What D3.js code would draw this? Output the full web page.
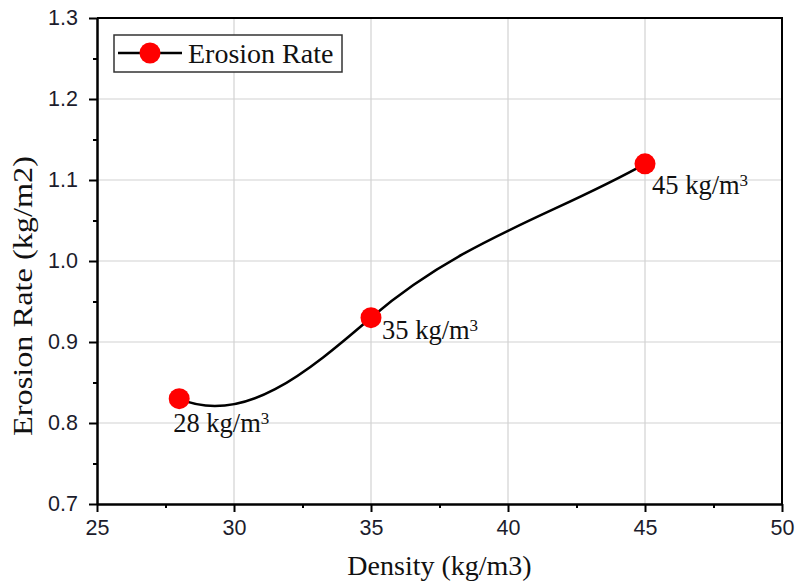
<!DOCTYPE html>
<html>
<head>
<meta charset="utf-8">
<script src="https://cdn.jsdelivr.net/npm/d3@7"></script>
<style>
  body { margin: 0; background: #fff; }
  svg { display: block; }
</style>
</head>
<body>
<div id="chart"></div>
<script>
// Data
const density = [28, 35, 45];
const erosionRate = [0.83, 0.93, 1.12];
const pointLabels = ["28 kg/m", "35 kg/m", "45 kg/m"];
const xTicks = [25, 30, 35, 40, 45, 50];
const yTicks = [0.7, 0.8, 0.9, 1.0, 1.1, 1.2, 1.3];
const seriesName = "Erosion Rate";

// Set up dimensions and margins
const W = 797, H = 582;
const margin = { top: 18, right: 15, bottom: 78, left: 97 };
const width = W - margin.left - margin.right;
const height = H - margin.top - margin.bottom;

const serif = "'Liberation Serif', 'Times New Roman', serif";
const sans = "'Liberation Sans', Arial, sans-serif";

const data = density.map((d, i) => ({ x: d, y: erosionRate[i], label: pointLabels[i] }));

const svg = d3.select("#chart")
    .append("svg")
    .attr("width", W)
    .attr("height", H);

const chart = svg.append("g")
    .attr("transform", `translate(${margin.left},${margin.top})`);

// Scales
const x = d3.scaleLinear().domain([25, 50]).range([0, width]);
const y = d3.scaleLinear().domain([0.7, 1.3]).range([height, 0]);

// Grid lines
chart.append("g")
    .selectAll("line")
    .data(xTicks.slice(1, -1))
    .join("line")
    .attr("x1", d => x(d)).attr("x2", d => x(d))
    .attr("y1", 0).attr("y2", height)
    .attr("stroke", "#d2d2d2").attr("stroke-width", 1.2);

chart.append("g")
    .selectAll("line")
    .data(yTicks.slice(1, -1))
    .join("line")
    .attr("y1", d => y(d)).attr("y2", d => y(d))
    .attr("x1", 0).attr("x2", width)
    .attr("stroke", "#d2d2d2").attr("stroke-width", 1.2);

// Minor ticks halfway between the major ones
const xMinor = xTicks.slice(1).map((d, i) => (d + xTicks[i]) / 2);
const yMinor = yTicks.slice(1).map((d, i) => (d + yTicks[i]) / 2);

function styleAxis(g) {
    g.selectAll("path, line").attr("stroke", "#000").attr("stroke-width", 2);
    g.selectAll("text")
        .style("font-family", sans)
        .style("font-size", "21.5px")
        .attr("fill", "#1c1c2c");
}

// x axis
chart.append("g")
    .attr("transform", `translate(0,${height})`)
    .call(d3.axisBottom(x).tickValues(xTicks).tickSize(8).tickSizeOuter(0).tickPadding(8))
    .call(styleAxis);
chart.append("g")
    .attr("transform", `translate(0,${height})`)
    .call(d3.axisBottom(x).tickValues(xMinor).tickSize(4).tickSizeOuter(0).tickFormat(""))
    .call(styleAxis);

// y axis
chart.append("g")
    .call(d3.axisLeft(y).tickValues(yTicks).tickFormat(d3.format(".1f")).tickSize(8).tickSizeOuter(0).tickPadding(11))
    .call(styleAxis);
chart.append("g")
    .call(d3.axisLeft(y).tickValues(yMinor).tickSize(4).tickSizeOuter(0).tickFormat(""))
    .call(styleAxis);

// top and right frame
chart.append("path")
    .attr("d", `M0,0H${width}V${height}`)
    .attr("fill", "none")
    .attr("stroke", "#000")
    .attr("stroke-width", 2);

// Spline through the points (tangents shaped like the original software's spline)
function originSpline(context) {
    let xs, ys;
    return {
        areaStart() {}, areaEnd() {},
        lineStart() { xs = []; ys = []; },
        point(px, py) { xs.push(+px); ys.push(+py); },
        lineEnd() {
            const n = xs.length;
            if (!n) return;
            context.moveTo(xs[0], ys[0]);
            if (n < 3) { if (n === 2) context.lineTo(xs[1], ys[1]); return; }
            const s = d3.range(n - 1).map(i => (ys[i + 1] - ys[i]) / (xs[i + 1] - xs[i]));
            const m = new Array(n);
            for (let i = 1; i < n - 1; i++) m[i] = (ys[i + 1] - ys[i - 1]) / (xs[i + 1] - xs[i]);
            m[0] = s[0] - m[1];
            m[n - 1] = s[n - 2];
            for (let i = 0; i < n - 1; i++) {
                const h = (xs[i + 1] - xs[i]) / 3;
                context.bezierCurveTo(xs[i] + h, ys[i] + m[i] * h,
                    xs[i + 1] - h, ys[i + 1] - m[i + 1] * h,
                    xs[i + 1], ys[i + 1]);
            }
        }
    };
}

const line = d3.line()
    .x(d => x(d.x))
    .y(d => y(d.y))
    .curve(originSpline);

chart.append("path")
    .datum(data)
    .attr("d", line)
    .attr("fill", "none")
    .attr("stroke", "#000")
    .attr("stroke-width", 2.5);

// Markers
chart.selectAll("circle.pt")
    .data(data)
    .join("circle")
    .attr("class", "pt")
    .attr("cx", d => x(d.x))
    .attr("cy", d => y(d.y))
    .attr("r", 10.5)
    .attr("fill", "#ff0000");

// Point labels (offsets from each point)
const labelOffset = [[-6, 33], [11, 21], [7, 30]];
const lbl = chart.selectAll("text.pt-label")
    .data(data)
    .join("text")
    .attr("class", "pt-label")
    .attr("x", (d, i) => x(d.x) + labelOffset[i][0])
    .attr("y", (d, i) => y(d.y) + labelOffset[i][1])
    .style("font-family", serif)
    .style("font-size", "26.5px")
    .attr("fill", "#111");
lbl.append("tspan").text(d => d.label);
lbl.append("tspan")
    .attr("dy", "-0.45em")
    .style("font-size", "17px")
    .text("3");

// Legend
const legend = chart.append("g").attr("transform", "translate(17,17)");
legend.append("rect")
    .attr("width", 228).attr("height", 37)
    .attr("fill", "#fff")
    .attr("stroke", "#333")
    .attr("stroke-width", 1.5);
legend.append("line")
    .attr("x1", 4).attr("x2", 68)
    .attr("y1", 18).attr("y2", 18)
    .attr("stroke", "#000").attr("stroke-width", 2.5);
legend.append("circle")
    .attr("cx", 36).attr("cy", 18).attr("r", 10.5)
    .attr("fill", "#ff0000");
legend.append("text")
    .attr("x", 74).attr("y", 28)
    .style("font-family", serif)
    .style("font-size", "28px")
    .attr("fill", "#111")
    .text(seriesName);

// Axis titles
svg.append("text")
    .attr("x", margin.left + width / 2)
    .attr("y", 575)
    .attr("text-anchor", "middle")
    .style("font-family", serif)
    .style("font-size", "28px")
    .attr("fill", "#111")
    .text("Density (kg/m3)");

svg.append("text")
    .attr("transform", "translate(32,296) rotate(-90)")
    .attr("text-anchor", "middle")
    .attr("textLength", 280)
    .attr("lengthAdjust", "spacingAndGlyphs")
    .style("font-family", serif)
    .style("font-size", "28px")
    .attr("fill", "#111")
    .text("Erosion Rate (kg/m2)");
</script>
</body>
</html>
